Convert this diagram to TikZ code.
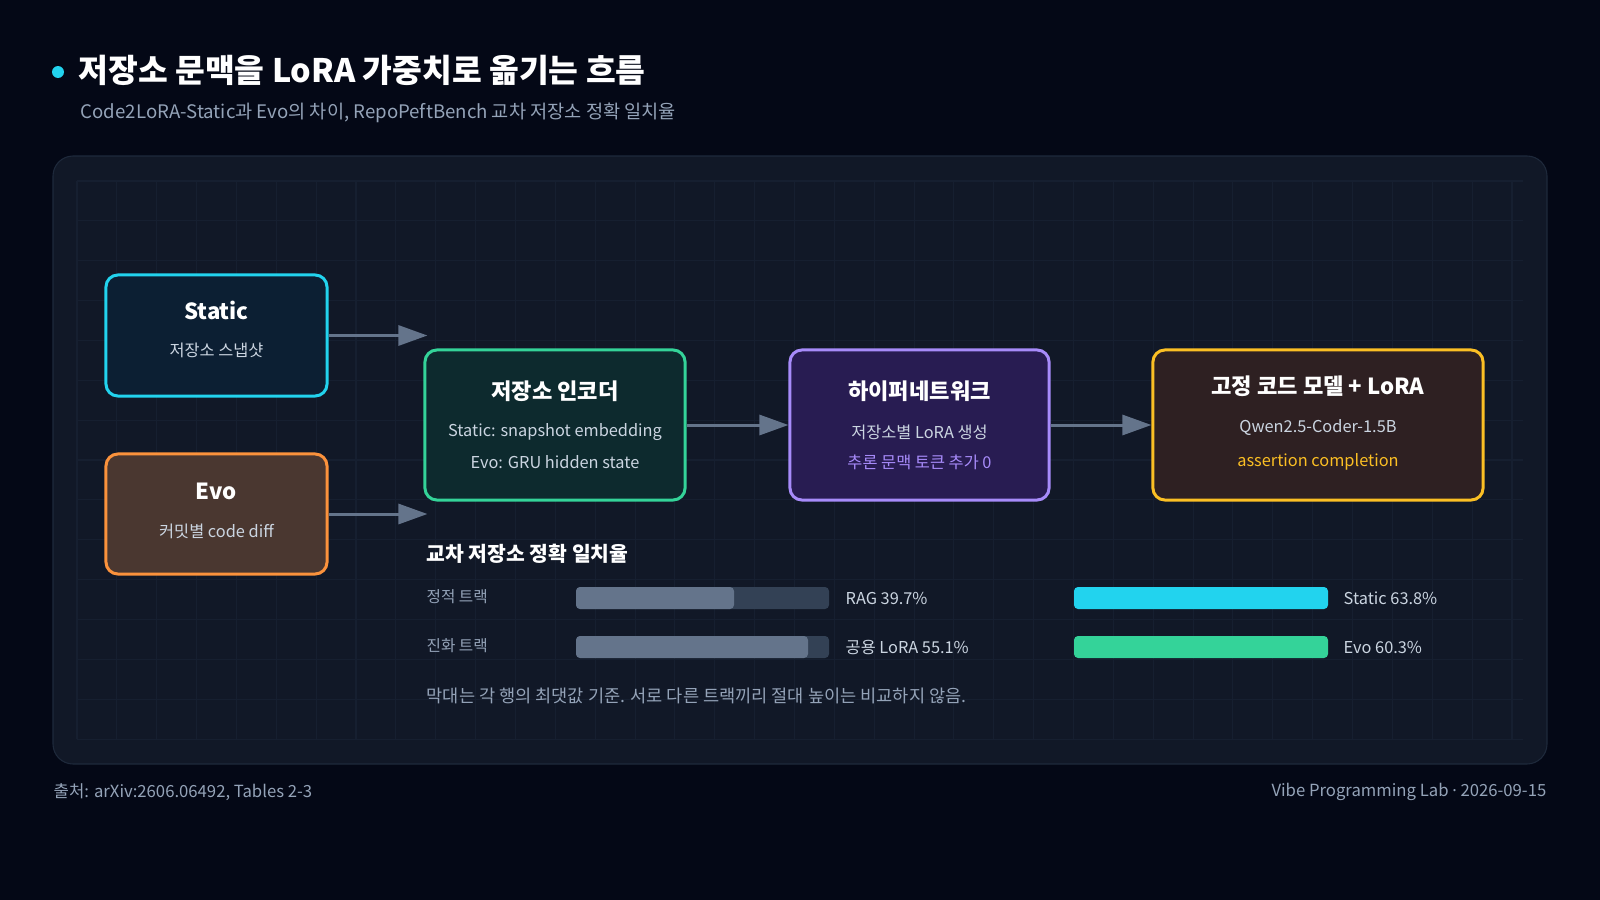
\documentclass[tikz,border=0pt]{standalone}
\usepackage{fontspec}
\setmainfont{Noto Sans CJK KR}
\newfontfamily\dotfont{Noto Sans}
\usetikzlibrary{arrows.meta}

\definecolor{pagebg}{HTML}{040816}
\definecolor{panelbg}{HTML}{111827}
\definecolor{panelline}{HTML}{1E293B}
\definecolor{gridline}{HTML}{161F30}
\definecolor{flowgray}{HTML}{64748B}
\definecolor{mutedtxt}{HTML}{94A3B8}
\definecolor{lighttxt}{HTML}{CBD5E1}
\definecolor{cyanline}{HTML}{22D3EE}
\definecolor{orangeline}{HTML}{FB923C}
\definecolor{greenline}{HTML}{34D399}
\definecolor{purpleline}{HTML}{A78BFA}
\definecolor{amberline}{HTML}{FBBF24}
\definecolor{staticfill}{HTML}{0C1F33}
\definecolor{evofill}{HTML}{4A3730}
\definecolor{encfill}{HTML}{0D2A2E}
\definecolor{hypfill}{HTML}{281C52}
\definecolor{modelfill}{HTML}{2E2022}
\definecolor{tracktrack}{HTML}{334155}

\tikzset{
  stagebox/.style={draw, line width=0.85pt, rounded corners=0.12cm, inner sep=0pt},
  headtitle/.style={inner sep=0pt, anchor=west, text=white, font=\bfseries\fontsize{9.2}{11}\selectfont},
  subhead/.style={inner sep=0pt, anchor=west, text=mutedtxt, font=\fontsize{5.3}{6.4}\selectfont},
  boxtitle/.style={inner sep=0pt, text=white, font=\bfseries\fontsize{6.3}{7.5}\selectfont},
  boxtext/.style={inner sep=0pt, text=lighttxt, font=\fontsize{4.65}{5.6}\selectfont},
  charttitle/.style={inner sep=0pt, anchor=west, text=white, font=\bfseries\fontsize{5.8}{7}\selectfont},
  rowlabel/.style={inner sep=0pt, anchor=west, text=mutedtxt, font=\fontsize{4.45}{5.3}\selectfont},
  barlabel/.style={inner sep=0pt, anchor=west, text=lighttxt, font=\fontsize{4.65}{5.5}\selectfont},
  notetext/.style={inner sep=0pt, anchor=west, text=mutedtxt, font=\fontsize{5.0}{6}\selectfont},
  foottext/.style={inner sep=0pt, text=mutedtxt, font=\fontsize{4.75}{5.7}\selectfont},
  flow/.style={draw=flowgray, line width=0.85pt, -{Triangle[length=0.29cm, width=0.2cm]}},
}

\begin{document}
\begin{tikzpicture}[x=0.01cm, y=-0.01cm]
	% page and panel
	\fill[pagebg] (0,0) rectangle (1600,900);
	\useasboundingbox (0,0) rectangle (1600,900);
	\filldraw[fill=panelbg, draw=panelline, line width=0.3pt, rounded corners=0.2cm] (53,156) rectangle (1547,764);
	\foreach \i in {0,...,36}
		\draw[gridline, line width=0.3pt] ({77+39.86*\i},181) -- ({77+39.86*\i},739);
	\foreach \j in {0,...,14}
		\draw[gridline, line width=0.3pt] (77,{181+39.86*\j}) -- (1523,{181+39.86*\j});
	
	% heading
	\fill[cyanline] (58,72) circle (6);
	\node[headtitle] (title) at (78,70) {저장소 문맥을 LoRA 가중치로 옮기는 흐름};
	\node[subhead] (subtitle) at (80,113) {Code2LoRA-Static과 Evo의 차이, RepoPeftBench 교차 저장소 정확 일치율};
	
	% stages
	\node[stagebox, draw=cyanline, fill=staticfill, minimum width=2.21cm, minimum height=1.21cm] (static) at (216.5,335.5) {};
	\node[boxtitle] (static-t) at (216.5,310) {Static};
	\node[boxtext] (static-s) at (216.5,350) {저장소 스냅샷};
	
	\node[stagebox, draw=orangeline, fill=evofill, minimum width=2.21cm, minimum height=1.2cm] (evo) at (216.5,514) {};
	\node[boxtitle] (evo-t) at (216.5,491) {Evo};
	\node[boxtext] (evo-s) at (216.5,531) {커밋별 code diff};
	
	\node[stagebox, draw=greenline, fill=encfill, minimum width=2.6cm, minimum height=1.5cm] (enc) at (555,425) {};
	\node[boxtitle] (enc-t) at (555,391) {저장소 인코더};
	\node[boxtext] (enc-a) at (555,432) {Static: snapshot embedding};
	\node[boxtext] (enc-b) at (555,462) {Evo: GRU hidden state};
	
	\node[stagebox, draw=purpleline, fill=hypfill, minimum width=2.59cm, minimum height=1.5cm] (hyp) at (919.5,425) {};
	\node[boxtitle] (hyp-t) at (919.5,391) {하이퍼네트워크};
	\node[boxtext] (hyp-a) at (919.5,432) {저장소별 LoRA 생성};
	\node[boxtext, text=purpleline] (hyp-b) at (919.5,462) {추론 문맥 토큰 추가 0};
	
	\node[stagebox, draw=amberline, fill=modelfill, minimum width=3.3cm, minimum height=1.5cm] (model) at (1318,425) {};
	\node[boxtitle] (model-t) at (1318,386) {고정 코드 모델 + LoRA};
	\node[boxtext] (model-a) at (1318,427) {Qwen2.5-Coder-1.5B};
	\node[boxtext, text=amberline] (model-b) at (1318,462) {assertion completion};
	
	% connectors
	\draw[flow] (static.east) -- ([xshift=0.04cm]static.east -| enc.west);
	\draw[flow] (evo.east) -- ([xshift=0.04cm]evo.east -| enc.west);
	\draw[flow] (enc.east) -- (hyp.west);
	\draw[flow] (hyp.east) -- (model.west);
	
	% exact match bars
	\node[charttitle] (chart) at (426,554) {교차 저장소 정확 일치율};
	\node[rowlabel] (row1) at (426,597) {정적 트랙};
	\node[rowlabel] (row2) at (426,646) {진화 트랙};
	
	\fill[tracktrack, rounded corners=0.04cm] (576,587) rectangle (829,609);
	\fill[flowgray, rounded corners=0.04cm] (576,587) rectangle (734,609);
	\fill[tracktrack, rounded corners=0.04cm] (576,636) rectangle (829,658);
	\fill[flowgray, rounded corners=0.04cm] (576,636) rectangle (808,658);
	\node[barlabel] (rag) at (845,598) {RAG 39.7\%};
	\node[barlabel] (shared) at (845,647) {공용 LoRA 55.1\%};
	
	\fill[cyanline, rounded corners=0.04cm] (1074,587) rectangle (1328,609);
	\fill[greenline, rounded corners=0.04cm] (1074,636) rectangle (1328,658);
	\node[barlabel] (static-v) at (1343,598) {Static 63.8\%};
	\node[barlabel] (evo-v) at (1343,647) {Evo 60.3\%};
	
	\node[notetext] (note) at (426,696) {막대는 각 행의 최댓값 기준. 서로 다른 트랙끼리 절대 높이는 비교하지 않음.};
	
	% footer
	\node[foottext, anchor=west] (source) at (53,792) {출처: arXiv:2606.06492, Tables 2-3};
	\node[foottext, anchor=east] (lab) at (1547,792) {Vibe Programming Lab {\dotfont·} 2026-09-15};
\end{tikzpicture}
\end{document}
